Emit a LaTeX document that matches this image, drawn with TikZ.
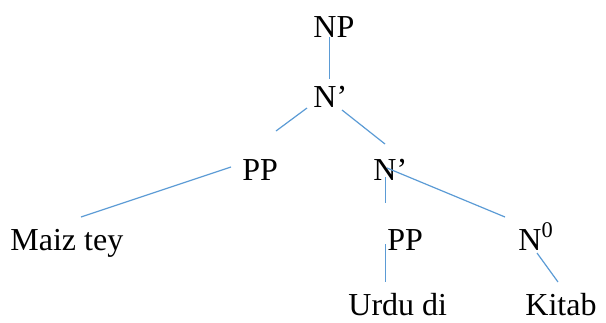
\documentclass[tikz,border=0pt]{standalone}
\usepackage{fontspec}
\setmainfont{Liberation Serif}
\usepackage{xcolor}
\usepackage{tikz}
\definecolor{branchblue}{RGB}{91,155,213}

\begin{document}
\begin{tikzpicture}[
    x=0.5pt, y=-0.5pt,
    word/.style={font=\fontsize{16}{19}\selectfont, inner sep=0pt, anchor=base west},
    branch/.style={draw=branchblue, line width=0.6pt}
]
    \useasboundingbox (0,0) rectangle (606,322);

    \node[word] (np) at (313,37) {NP};
    \node[word] (nbar) at (313,107) {N’};
    \node[word] (pp1) at (242,180) {PP};
    \node[word] (nbar2) at (373,180) {N’};
    \node[word] (maiz) at (10,250) {Maiz tey};
    \node[word] (pp2) at (387,250) {PP};
    \node[word] (n0) at (518,250) {N\textsuperscript{0}};
    \node[word] (urdu) at (348,315) {Urdu di};
    \node[word] (kitab) at (525,315) {Kitab};

    % branches
    \draw[branch] ([shift={(16.5,0)}]np.base west) -- ([shift={(16.5,-28)}]nbar.base west);
    \draw[branch] ([shift={(-6,1)}]nbar.base west) -- ([shift={(34,-49)}]pp1.base west);
    \draw[branch] ([shift={(29,3)}]nbar.base west) -- ([shift={(12,-36)}]nbar2.base west);
    \draw[branch] ([shift={(-11,-13)}]pp1.base west) -- ([shift={(71,-33)}]maiz.base west);
    \draw[branch] ([shift={(14,-12)}]nbar2.base west) -- ([shift={(-13,-33)}]n0.base west);
    \draw[branch] ([shift={(12.5,-3)}]nbar2.base west) -- ([shift={(-1.5,-47)}]pp2.base west);
    \draw[branch] ([shift={(-1.5,-6)}]pp2.base west) -- ([shift={(37.5,-33)}]urdu.base west);
    \draw[branch] ([shift={(19,3)}]n0.base west) -- ([shift={(33,-33)}]kitab.base west);

\end{tikzpicture}
\end{document}
